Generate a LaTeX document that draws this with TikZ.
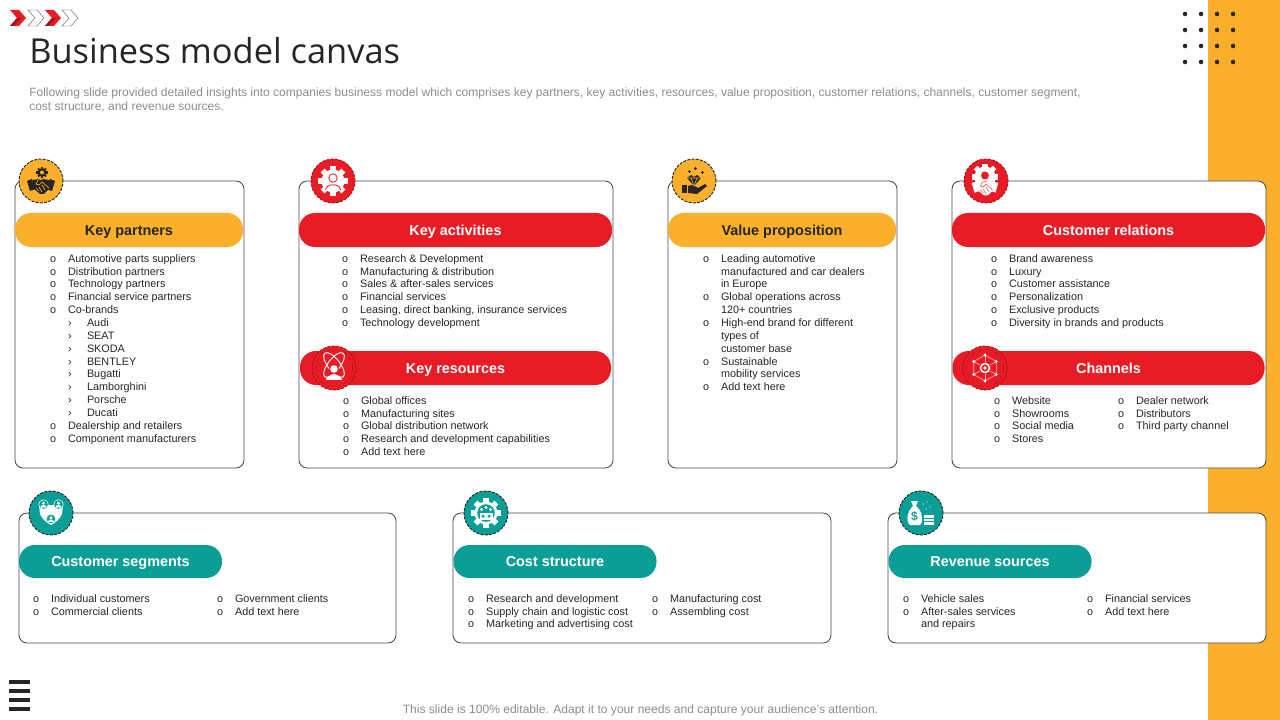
\documentclass[tikz,border=0pt]{standalone}
\usepackage{fontspec}
\setmainfont{Liberation Sans}
\newfontfamily\titlefont{Open Sans}
\newfontfamily\bulfont{Liberation Mono}
\usepackage{tikz}
\usetikzlibrary{positioning}
\definecolor{BMCAmber}{HTML}{FAB02C}
\definecolor{BMCRed}{HTML}{E91C26}
\definecolor{BMCDeepRed}{HTML}{A9141C}
\definecolor{BMCTeal}{HTML}{0A9E96}
\definecolor{BMCInk}{HTML}{262626}
\definecolor{BMCMuted}{HTML}{8C8C8C}
\newcommand{\bul}{\strut\makebox[13.7pt][l]{\bulfont o}}
\newcommand{\sbul}{\strut\hspace*{13.7pt}\makebox[14.25pt][l]{›}}
\newcommand{\cont}{\strut\hspace*{13.7pt}}
\newcommand{\gearshape}[2]{%
  \fill[#1] (0,0) circle (#2);
  \foreach \a in {0,45,...,315} {\fill[#1,rotate=\a] (-.24*#2,-1.28*#2) rectangle (.24*#2,-.9*#2);}
}
\newcommand{\shakeshape}[2]{%
  \fill[#1] (-14,-3) -- (-9,-5) -- (-5,5) -- (-11,7) -- cycle;
  \fill[#1] (14,-3) -- (9,-5) -- (5,5) -- (11,7) -- cycle;
  \fill[#1] (-8,-4) -- (-2,-5) -- (2,-5) -- (8,-4) -- (10,3) -- (3,10) -- (-1,10) -- (-9,3) -- cycle;
  \draw[#2,line width=.5pt] (2,-5) -- (-3,-4) -- (-5,0) -- (-2,1) -- (1,-2) -- (8,4);
  \draw[#2,line width=.5pt] (-5,4) -- (-2,7) (-2,3) -- (1,8) (1,1) -- (4,6);
}
\begin{document}
\begin{tikzpicture}[
  x=.75pt,y=-.75pt,
  card/.style={draw=BMCInk!85,line width=.65pt,rounded corners=6pt,fill=white,inner sep=0pt},
  pill/.style={rounded corners=12pt,minimum height=25.5pt,inner sep=0pt,text height=9pt,text depth=1pt,font=\fontsize{10.8}{12}\selectfont\bfseries,text=white},
  pilllow/.style={pill,fill=BMCTeal,minimum width=152.25pt,minimum height=24.75pt},
  medal/.style={circle,minimum size=33pt,inner sep=0pt,line width=.7pt,dashed,dash pattern=on 2.2pt off 1pt},
  itemlist/.style={anchor=north west,inner sep=0pt,align=left,text=BMCInk,font=\fontsize{8.12}{9.64}\selectfont},
  iconline/.style={draw=white,line width=.7pt},
  dotmark/.style={circle,fill=BMCInk,minimum size=3.4pt,inner sep=0pt},
]
\useasboundingbox (0,0) rectangle (1280,720);
\fill[BMCAmber] (1208,0) rectangle (1280,720);
\foreach \dx in {1185,1201,1217,1233} {
  \foreach \dy in {14,30,46,62} {
    \node[dotmark] (dot\dx\dy) at (\dx,\dy) {};
  }
}
\foreach \cx in {10,45} {
  \fill[BMCRed] (\cx,10) -- (\cx+9,10) -- (\cx+16,18) -- (\cx+9,26) -- (\cx,26) -- (\cx+7,18) -- cycle;
  \fill[BMCDeepRed] (\cx+7,18) -- (\cx+11,18) -- (\cx+4,26) -- (\cx,26) -- cycle;
}
\foreach \cx in {28,62} {
  \draw[BMCInk!80,line width=.3pt] (\cx,10) -- (\cx+9,10) -- (\cx+16,18) -- (\cx+9,26) -- (\cx,26) -- (\cx+7,18) -- cycle;
}
\node[anchor=west,inner sep=0pt,text=BMCInk,font=\titlefont\fontsize{25.8}{30}\selectfont] (slidetitle) at (29,50.5) {Business model canvas};
\node[anchor=north west,inner sep=0pt,align=left,text=BMCMuted,font=\fontsize{9.02}{10.5}\selectfont] (slidelead) at (29,88) {Following slide provided detailed insights into companies business model which comprises key partners, key activities, resources, value proposition, customer relations, channels, customer segment,\\cost structure, and revenue sources.};
\foreach \by in {680,689,698,707} {
  \fill[BMCInk] (9,\by) rectangle (30,\by+4);
}
\node[inner sep=0pt,text=BMCMuted,font=\fontsize{9.04}{11}\selectfont] (slidefoot) at (640.5,710.5) {This slide is 100\% editable. Adapt it to your needs and capture your audience’s attention.};

\node[card,minimum width=171.75pt,minimum height=215.25pt] (partnerscard) at (129.5,324.5) {};
\node[card,minimum width=235.5pt,minimum height=215.25pt] (activitycard) at (456,324.5) {};
\node[card,minimum width=171.75pt,minimum height=215.25pt] (valuecard) at (782.5,324.5) {};
\node[card,minimum width=235.5pt,minimum height=215.25pt] (relationcard) at (1109,324.5) {};
\node[card,minimum width=282.75pt,minimum height=97.5pt] (segmentcard) at (207.5,578) {};
\node[card,minimum width=283.5pt,minimum height=97.5pt] (costcard) at (642,578) {};
\node[card,minimum width=283.5pt,minimum height=97.5pt] (revenuecard) at (1077,578) {};

\node[pill,fill=BMCAmber,text=BMCInk,minimum width=171pt] (partnerspill) at (129,230) {Key partners};
\node[pill,fill=BMCRed,minimum width=234.75pt] (activitypill) at (455.5,230) {Key activities};
\node[pill,fill=BMCRed,minimum width=233.25pt] (resourcepill) at (455.5,368) {Key resources};
\node[pill,fill=BMCAmber,text=BMCInk,minimum width=171pt] (valuepill) at (782,230) {Value proposition};
\node[pill,fill=BMCRed,minimum width=234.75pt] (relationpill) at (1108.5,230) {Customer relations};
\node[pill,fill=BMCRed,minimum width=234pt] (channelpill) at (1108.5,368) {Channels};
\node[pilllow] (segmentpill) at (120.5,561.5) {Customer segments};
\node[pilllow] (costpill) at (555,561.5) {Cost structure};
\node[pilllow] (revenuepill) at (990,561.5) {Revenue sources};

\node[itemlist] (partnerslist) at (49.5,253) {\bul Automotive parts suppliers\\\bul Distribution partners\\\bul Technology partners\\\bul Financial service partners\\\bul Co-brands\\\sbul Audi\\\sbul SEAT\\\sbul SKODA\\\sbul BENTLEY\\\sbul Bugatti\\\sbul Lamborghini\\\sbul Porsche\\\sbul Ducati\\\bul Dealership and retailers\\\bul Component manufacturers};
\node[itemlist] (activitylist) at (341.5,253) {\bul Research \& Development\\\bul Manufacturing \& distribution\\\bul Sales \& after-sales services\\\bul Financial services\\\bul Leasing, direct banking, insurance services\\\bul Technology development};
\node[itemlist] (resourcelist) at (342.5,395) {\bul Global offices\\\bul Manufacturing sites\\\bul Global distribution network\\\bul Research and development capabilities\\\bul Add text here};
\node[itemlist] (valuelist) at (702.5,253) {\bul Leading automotive\\\cont manufactured and car dealers\\\cont in Europe\\\bul Global operations across\\\cont 120+ countries\\\bul High-end brand for different\\\cont types of\\\cont customer base\\\bul Sustainable\\\cont mobility services\\\bul Add text here};
\node[itemlist] (relationlist) at (990.5,253) {\bul Brand awareness\\\bul Luxury\\\bul Customer assistance\\\bul Personalization\\\bul Exclusive products\\\bul Diversity in brands and products};
\node[itemlist] (channellist) at (993.5,395) {\bul Website\\\bul Showrooms\\\bul Social media\\\bul Stores};
\node[itemlist] (channellisttwo) at (1117.5,395) {\bul Dealer network\\\bul Distributors\\\bul Third party channel};
\node[itemlist] (segmentlist) at (32.5,593) {\bul Individual customers\\\bul Commercial clients};
\node[itemlist] (segmentlisttwo) at (216.5,593) {\bul Government clients\\\bul Add text here};
\node[itemlist] (costlist) at (467.5,593) {\bul Research and development\\\bul Supply chain and logistic cost\\\bul Marketing and advertising cost};
\node[itemlist] (costlisttwo) at (651.5,593) {\bul Manufacturing cost\\\bul Assembling cost};
\node[itemlist] (revenuelist) at (902.5,593) {\bul Vehicle sales\\\bul After-sales services\\\cont and repairs};
\node[itemlist] (revenuelisttwo) at (1086.5,593) {\bul Financial services\\\bul Add text here};

\node[medal,fill=BMCAmber,draw=BMCInk] (partnersicon) at (41,181) {};
\node[medal,fill=BMCRed,draw=BMCDeepRed] (activityicon) at (333,181) {};
\node[medal,fill=BMCRed,draw=BMCDeepRed] (resourceicon) at (334,368) {};
\node[medal,fill=BMCAmber,draw=BMCInk] (valueicon) at (694,181) {};
\node[medal,fill=BMCRed,draw=BMCDeepRed] (relationicon) at (986,181) {};
\node[medal,fill=BMCRed,draw=BMCDeepRed] (channelicon) at (985,368) {};
\node[medal,fill=BMCTeal,draw=BMCInk] (segmenticon) at (51,513) {};
\node[medal,fill=BMCTeal,draw=BMCInk] (costicon) at (486,513) {};
\node[medal,fill=BMCTeal,draw=BMCInk] (revenueicon) at (921,513) {};

\begin{scope}[shift={(partnersicon.center)}]
  \begin{scope}[shift={(1,-8.5)}]
    \gearshape{BMCInk}{4.4}
    \fill[BMCAmber] (0,0) circle (2);
  \end{scope}
  \begin{scope}[shift={(0,3)}]
    \shakeshape{BMCInk}{BMCAmber}
  \end{scope}
\end{scope}

\begin{scope}[shift={(activityicon.center)}]
  \gearshape{white}{11.5}
  \draw[BMCRed,line width=.6pt] (0,-3) circle (4.2);
  \draw[BMCRed,line width=.6pt] (-7.5,9) .. controls (-7,2) and (7,2) .. (7.5,9);
\end{scope}

\begin{scope}[shift={(resourceicon.center)}]
  \draw[BMCDeepRed,line width=.4pt,dashed] (0,0) circle (18.5);
  \draw[iconline,rotate around={52:(0,-3)}] (0,-3) ellipse [x radius=15,y radius=6];
  \draw[iconline,rotate around={-52:(0,-3)}] (0,-3) ellipse [x radius=15,y radius=6];
  \fill[BMCRed] (0,1) circle (5);
  \fill[white] (0,1) circle (3.8);
  \fill[white] (-8,12) .. controls (-8,5) and (8,5) .. (8,12) -- cycle;
\end{scope}

\begin{scope}[shift={(valueicon.center)}]
  \fill[BMCInk] (-12,4) rectangle (-7,12);
  \fill[BMCInk] (-6,5) .. controls (-2,3) and (1,5) .. (4,7) -- (11,3) -- (13,5) -- (3,13) -- (-6,12) -- cycle;
  \fill[BMCInk] (-7,-3) -- (-3,-6) -- (0,-4) -- (3,-6) -- (7,-3) -- (0,5) -- cycle;
  \draw[BMCAmber,line width=.4pt] (-7,-3) -- (7,-3) (-3,-3) -- (0,5) -- (3,-3);
  \draw[BMCInk,line width=.5pt] (-5,-11) -- (-5,-8) (-6.5,-9.5) -- (-3.5,-9.5) (1,-14) -- (1,-11) (-.5,-12.5) -- (2.5,-12.5) (8,-10) -- (8,-7) (6.5,-8.5) -- (9.5,-8.5);
\end{scope}

\begin{scope}[shift={(relationicon.center)}]
  \begin{scope}[shift={(-1,-4)}]
    \gearshape{white}{10.5}
    \fill[BMCRed] (0,-1.5) circle (4);
  \end{scope}
  \begin{scope}[shift={(-1,5)},scale=.95]
    \shakeshape{white}{BMCRed!70}
  \end{scope}
\end{scope}

\begin{scope}[shift={(channelicon.center)}]
  \draw[BMCDeepRed,line width=.4pt,dashed] (0,0) circle (18.5);
  \draw[white!75!BMCRed,line width=.4pt] (90:13) -- (30:13) -- (-30:13) -- (-90:13) -- (-150:13) -- (150:13) -- cycle;
  \foreach \a in {30,90,...,330} {
    \draw[white!75!BMCRed,line width=.4pt] (0,0) -- (\a:13);
    \fill[white] (\a:13) circle (1.7);
  }
  \fill[BMCRed] (0,0) circle (6);
  \draw[white,line width=1.1pt] (0,0) circle (4.5);
  \fill[white] (0,0) circle (1.8);
\end{scope}

\begin{scope}[shift={(segmenticon.center)}]
  \fill[white] (-12,-8) -- (12,-8) -- (11,1) .. controls (9,6) and (4,10) .. (0,12) .. controls (-4,10) and (-9,6) .. (-11,1) -- cycle;
  \foreach \px/\py in {-7.5/-8.5,7.5/-8.5,0/6} {
    \begin{scope}[shift={(\px,\py)}]
      \fill[BMCTeal,draw=white,line width=.4pt] (0,0) circle (4.8);
      \fill[white] (0,-1.3) circle (1.7);
      \fill[white] (-3.1,3) .. controls (-2.9,-.4) and (2.9,-.4) .. (3.1,3) -- cycle;
    \end{scope}
  }
\end{scope}

\begin{scope}[shift={(costicon.center)}]
  \gearshape{white}{11.5}
  \fill[BMCTeal] (0,0) circle (8.8);
  \foreach \px/\py in {-4.5/-3.5,0/-5.5,4.5/-3.5} {
    \fill[white] (\px,\py) circle (1.7);
  }
  \fill[white] (-6.5,0) rectangle (6.5,6.5);
  \fill[BMCTeal] (-3,3.2) circle (1.7) (3,3.2) circle (1.7);
\end{scope}

\begin{scope}[shift={(revenueicon.center)}]
  \fill[white] (-10,-12) -- (-3,-12) -- (-5,-7) .. controls (1,-3) and (3,9) .. (-1,12) -- (-11,12) .. controls (-16,8) and (-13,-3) .. (-8,-7) -- cycle;
  \node[inner sep=0pt,text=BMCTeal,font=\fontsize{9}{10}\selectfont\bfseries] (revenuedollar) at (-6.5,3.5) {\$};
  \foreach \cy in {2,5.5,9} {
    \fill[white] (2.5,\cy) rectangle (12.5,\cy+2.7);
  }
  \foreach \sx/\sy in {2/-9,6/-11,9/-6,5/-4} {
    \fill[white] (\sx,\sy) circle (.7);
  }
\end{scope}
\end{tikzpicture}
\end{document}
